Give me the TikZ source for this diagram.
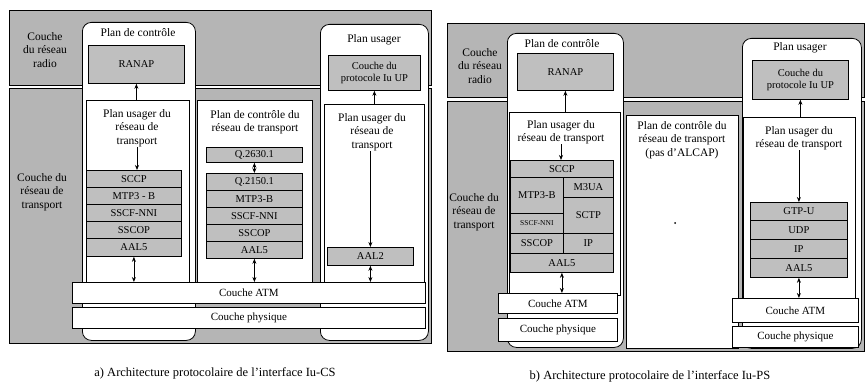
\documentclass[tikz,border=0pt]{standalone}
\usepackage{fontspec}
\setmainfont{Liberation Serif}
\usetikzlibrary{arrows.meta}
\begin{document}
\begin{tikzpicture}[x=1pt,y=-1pt,
  fr/.style={draw=black, line width=0.8pt},
  band/.style={fr, fill=black!29},
  col/.style={fr, fill=white, rounded corners=9pt, anchor=north west, inner sep=0pt},
  wbox/.style={fr, fill=white, anchor=north west, inner sep=0pt},
  layer/.style={wbox, font=\fontsize{11}{13}\selectfont},
  proto/.style={fr, fill=black!25, anchor=north west, inner sep=0pt, align=center, font=\fontsize{10.5}{12}\selectfont},
  lbl/.style={font=\fontsize{11.5}{13.5}\selectfont, align=center, inner sep=0pt},
  captxt/.style={font=\fontsize{12.5}{14}\selectfont, inner sep=0pt},
  arr/.style={-{Stealth[length=5pt,width=4pt]}, line width=0.8pt},
  darr/.style={{Stealth[length=5pt,width=4pt]}-{Stealth[length=5pt,width=4pt]}, line width=0.8pt}
]
\useasboundingbox (0,0) rectangle (867,382);

% ================= Part a =================
\draw[band] (9,10) rectangle (431,85);
\draw[band] (9,88) rectangle (431,343);
\node[lbl] (radA) at (45,50) {Couche\\du réseau\\radio};
\node[lbl] (trA) at (42,192) {Couche du\\réseau de\\transport};

% control plane column
\node[col, minimum width=113pt, minimum height=318pt] (cpA) at (82,22) {};
\node[lbl] (cpAt) at (138,33) {Plan de contrôle};
\node[proto, minimum width=96pt, minimum height=38pt] (ranapA) at (88,45) {RANAP};
\node[wbox, minimum width=103pt, minimum height=186pt] (upA) at (86,100) {};
\node[lbl] (upAt) at (137,128) {Plan usager du\\réseau de\\transport};
\node[proto, minimum width=95pt, minimum height=17pt] (a1) at (86,170) {SCCP};
\node[proto, minimum width=95pt, minimum height=17pt] (a2) at (86,187) {MTP3 - B};
\node[proto, minimum width=95pt, minimum height=17pt] (a3) at (86,204) {SSCF-NNI};
\node[proto, minimum width=95pt, minimum height=17pt] (a4) at (86,221) {SSCOP};
\node[proto, minimum width=95pt, minimum height=18pt] (a5) at (86,238) {AAL5};

% transport control plane column
\node[wbox, minimum width=115pt, minimum height=186pt] (tcA) at (197,100) {};
\node[lbl] (tcAt) at (255,122) {Plan de contrôle du\\réseau de transport};
\node[proto, minimum width=96pt, minimum height=15pt] (q2630) at (206,147) {Q.2630.1};
\node[proto, minimum width=96pt, minimum height=17pt] (b1) at (206,173) {Q.2150.1};
\node[proto, minimum width=96pt, minimum height=17pt] (b2) at (206,190) {MTP3-B};
\node[proto, minimum width=96pt, minimum height=17pt] (b3) at (206,207) {SSCF-NNI};
\node[proto, minimum width=96pt, minimum height=17pt] (b4) at (206,224) {SSCOP};
\node[proto, minimum width=96pt, minimum height=17pt] (b5) at (206,241) {AAL5};

% user plane column
\node[col, minimum width=108pt, minimum height=316pt] (upcA) at (320,24) {};
\node[lbl] (upcAt) at (374,40) {Plan usager};
\node[proto, minimum width=92pt, minimum height=35pt] (iuA) at (328,55) {Couche du\\protocole Iu UP};
\node[wbox, minimum width=100pt, minimum height=186pt] (tuA) at (324,104) {};
\node[lbl] (tuAt) at (372,132) {Plan usager du\\réseau de\\transport};
\node[proto, minimum width=86pt, minimum height=18pt] (aal2) at (327,247) {AAL2};

% ATM / physical
\node[layer, minimum width=353pt, minimum height=21pt] (atmA) at (72,282) {Couche ATM};
\node[layer, minimum width=353pt, minimum height=21pt] (phyA) at (72,307) {Couche physique};

% arrows a
\draw[arr] (upA.north -| ranapA.south) -- (ranapA.south);
\draw[arr] (upAt.south) -- (upAt.south |- a1.north);
\draw[darr] (a5.south) -- (a5.south |- atmA.north);
\draw[darr] (q2630.south) -- (b1.north);
\draw[darr] (b5.south) -- (b5.south |- atmA.north);
\draw[arr] (tuA.north -| iuA.south) -- (iuA.south);
\draw[arr] (tuAt.south -| aal2.north) -- (aal2.north);
\draw[darr] (aal2.south) -- (aal2.south |- atmA.north);

\node[captxt] (capA) at (215,373) {a) Architecture protocolaire de l'interface Iu-CS};

% ================= Part b =================
\draw[band] (447,23) rectangle (864,97);
\draw[band] (447,101) rectangle (864,351);
\node[lbl] (radB) at (480,66) {Couche\\du réseau\\radio};
\node[lbl] (trB) at (474,212) {Couche du\\réseau de\\transport};

% control plane column
\node[col, minimum width=116pt, minimum height=314pt] (cpB) at (507,33) {};
\node[lbl] (cpBt) at (562,44) {Plan de contrôle};
\node[proto, minimum width=96pt, minimum height=37pt] (ranapB) at (517,53) {RANAP};
\node[wbox, minimum width=111pt, minimum height=183pt] (upB) at (509,112) {};
\node[lbl] (upBt) at (561,132) {Plan usager du\\réseau de transport};
\node[proto, minimum width=103pt, minimum height=17pt] (sccpB) at (510,160) {SCCP};
\node[proto, minimum width=53pt, minimum height=36pt] (mtpB) at (510,177) {MTP3-B};
\node[proto, minimum width=53pt, minimum height=20pt, font=\fontsize{7.5}{8}\selectfont] (sscfB) at (510,213) {SSCF-NNI};
\node[proto, minimum width=53pt, minimum height=20pt] (sscopB) at (510,233) {SSCOP};
\node[proto, minimum width=50pt, minimum height=20pt] (m3uaB) at (563,177) {M3UA};
\node[proto, minimum width=50pt, minimum height=36pt] (sctpB) at (563,197) {SCTP};
\node[proto, minimum width=50pt, minimum height=20pt] (ipB) at (563,233) {IP};
\node[proto, minimum width=103pt, minimum height=19pt] (aal5B) at (510,253) {AAL5};
\node[layer, minimum width=119pt, minimum height=20pt] (atmB) at (498,293) {Couche ATM};
\node[layer, minimum width=119pt, minimum height=23pt] (phyB) at (498,318) {Couche physique};

% transport control plane column
\node[wbox, minimum width=112pt, minimum height=233pt] (tcB) at (626,115) {};
\node[lbl] (tcBt) at (682,140) {Plan de contrôle du\\réseau de transport\\(pas d'ALCAP)};
\fill (675,223) circle (1pt);

% user plane column
\node[col, minimum width=119pt, minimum height=310pt] (upcB) at (742,38) {};
\node[lbl] (upcBt) at (800,48) {Plan usager};
\node[proto, minimum width=96pt, minimum height=39pt] (iuB) at (752,60) {Couche du\\protocole Iu UP};
\node[wbox, minimum width=112pt, minimum height=181pt] (tuB) at (743,117) {};
\node[lbl] (tuBt) at (799,138) {Plan usager du\\réseau de transport};
\node[proto, minimum width=97pt, minimum height=18pt] (gtpB) at (750,202) {GTP-U};
\node[proto, minimum width=97pt, minimum height=19pt] (udpB) at (750,220) {UDP};
\node[proto, minimum width=97pt, minimum height=19pt] (ip2B) at (750,239) {IP};
\node[proto, minimum width=97pt, minimum height=19pt] (aal5B2) at (750,258) {AAL5};
\node[layer, minimum width=126pt, minimum height=24pt] (atmB2) at (732,298) {Couche ATM};
\node[layer, minimum width=126pt, minimum height=21pt] (phyB2) at (732,326) {Couche physique};

% arrows b
\draw[arr] (upB.north -| ranapB.south) -- (ranapB.south);
\draw[arr] (upBt.south) -- (upBt.south |- sccpB.north);
\draw[darr] (aal5B.south) -- (aal5B.south |- atmB.north);
\draw[arr] (tuB.north -| iuB.south) -- (iuB.south);
\draw[arr] (tuBt.south -| gtpB.north) -- (gtpB.north);
\draw[darr] (aal5B2.south) -- (aal5B2.south |- atmB2.north);

\node[captxt] (capB) at (650,376) {b) Architecture protocolaire de l'interface Iu-PS};
\end{tikzpicture}
\end{document}
